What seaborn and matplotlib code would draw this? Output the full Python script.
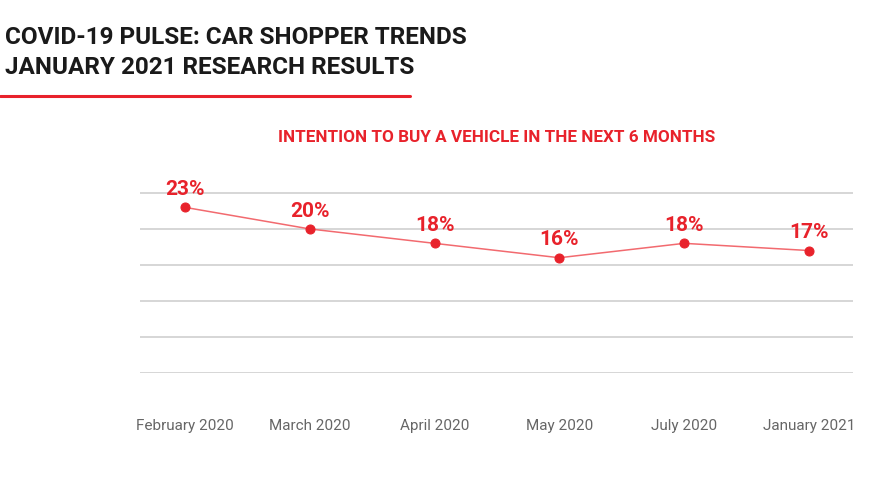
import pandas as pd
import seaborn as sns
import matplotlib.pyplot as plt

months = ['February 2020', 'March 2020', 'April 2020', 'May 2020', 'July 2020', 'January 2021']
intent = [23, 20, 18, 16, 18, 17]

df = pd.DataFrame({'month': months, 'pct': intent, 'pos': range(len(months))})

sns.set_theme(style='white')
plt.rcParams['font.family'] = ['Roboto', 'DejaVu Sans']

red = '#e8222b'

fig = plt.figure(figsize=(8.8, 4.95), dpi=100)
ax = fig.add_axes([0.159, 0.2465, 0.81, 0.4365])

sns.lineplot(data=df, x='pos', y='pct', ax=ax, color='#f26a6f', linewidth=1.1,
             marker='o', markersize=6.5, markerfacecolor=red, markeredgecolor=red)

for x, y in zip(df['pos'], df['pct']):
    ax.annotate(f'{y}%', (x, y), xytext=(0, 6), textcoords='offset points',
                ha='center', va='bottom', color=red, fontsize=15, fontweight='semibold')

ax.set_xlim(-0.36, 5.35)
ax.set_ylim(0, 30)
ax.set_yticks([0, 5, 10, 15, 20, 25])
ax.set_yticklabels([])
ax.yaxis.grid(True, color='#cfcfcf', linewidth=1.2)
ax.xaxis.grid(False)
ax.set_xticks(df['pos'])
ax.set_xticklabels(months, fontsize=11, color='#666666')
ax.tick_params(axis='x', length=0, pad=33)
ax.tick_params(axis='y', length=0)
ax.set_xlabel('')
ax.set_ylabel('')
for s in ax.spines.values():
    s.set_visible(False)

fig.text(0.006, 0.948, 'COVID-19 PULSE: CAR SHOPPER TRENDS\nJANUARY 2021 RESEARCH RESULTS',
         ha='left', va='top', fontsize=17.5, fontweight='bold', color='#1a1a1a', linespacing=1.4)
fig.add_artist(plt.Line2D([0, 410 / 880], [1 - 96 / 495] * 2, color=red, linewidth=2.2))
fig.text(497 / 880, 1 - 138 / 495, 'INTENTION TO BUY A VEHICLE IN THE NEXT 6 MONTHS',
         ha='center', va='center', fontsize=12.3, fontweight='semibold', color=red)

fig.savefig('out.png', dpi=100)
